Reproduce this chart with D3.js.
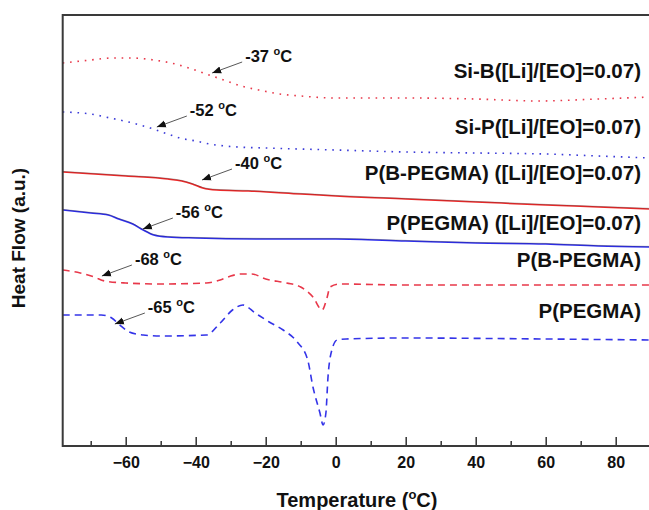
<!DOCTYPE html>
<html>
<head>
<meta charset="utf-8">
<script src="https://cdn.jsdelivr.net/npm/d3@7"></script>
<style>
  body { margin: 0; background: #fff; }
  text { font-family: "Liberation Sans", Arial, sans-serif; font-weight: bold; fill: #111; }
</style>
</head>
<body>
<svg width="649" height="510"></svg>
<script>
// DSC traces, [temperature (C), heat flow (a.u.)]
var siB = [[-78,383],[-70,386],[-64,388],[-58,388],[-52,386],[-47,383],[-42,378],[-37,372],[-32,366],[-27,360],[-22,356],[-16,352],[-10,350],[0,348],[20,348],[40,347],[58,345],[75,347],[90,349]]
var siP = [[-78,334],[-70,332],[-64.5,328],[-58,323],[-53,318],[-48,312],[-44.5,308],[-40,305],[-36,302],[-28,299],[-20,298],[0,296],[20,294],[40,293],[60,292],[75,290],[90,288]]
var pbLi = [[-78,274],[-60,270],[-48,267],[-44,265],[-41,262],[-38,258],[-34,256],[-25,255],[-10,252],[0,250],[20,247],[40,244],[60,241],[75,239],[90,237]]
var ppLi = [[-78,236],[-70,233],[-65,231],[-62,227],[-58,222],[-55,216],[-52,211],[-48,209],[-40,208],[-20,207],[0,207],[20,205],[40,203],[60,202],[75,200],[90,199]]
var pb = [[-78,176],[-73,173],[-69,169],[-66,165],[-60,163],[-50,162],[-37,163],[-33,166],[-30,170],[-27,172],[-24,172],[-20,167],[-14,163],[-10,159],[-6.5,149],[-3.9,136],[-2.5,148],[-1.6,159],[1,162],[20,161],[90,161]]
var pp = [[-78,131],[-67,131],[-64,128],[-62,122],[-59,114],[-55,111],[-50,110],[-37,111],[-33,123],[-29.5,136],[-26.5,141],[-23,133],[-19,124],[-15,116],[-11,104],[-8,86],[-6.5,59],[-4.5,33],[-3.6,21],[-2.8,33],[-2.2,69],[-1.1,96],[0.4,106],[3,107],[20,108],[60,107],[90,106]]

var seriesNames = ["Si-B([Li]/[EO]=0.07)", "Si-P([Li]/[EO]=0.07)", "P(B-PEGMA) ([Li]/[EO]=0.07)", "P(PEGMA) ([Li]/[EO]=0.07)", "P(B-PEGMA)", "P(PEGMA)"]
var seriesData = [siB, siP, pbLi, ppLi, pb, pp]
var seriesColors = ["#e8384a", "#3a3ad8", "#f22a2a", "#2e2ef0", "#e8384a", "#3434e8"]
var seriesDash = ["1.6,5.8", "1.6,5.8", null, null, "7,5", "7,5"]

// glass transitions: label, temperature and heat flow of the arrow tip
var tgLabels = ["-37", "-52", "-40", "-56", "-68", "-65"]
var tgTemp = [-35.3, -51.1, -38.2, -55.1, -66.8, -63.1]
var tgFlow = [373, 319, 266, 217, 170, 122]

var xMajor = [-60, -40, -20, 0, 20, 40, 60, 80]
var xMinor = [-70, -50, -30, -10, 10, 30, 50, 70, 90]

var svg = d3.select("svg")
var xScale = d3.scaleLinear().domain([-78, 90]).range([62.7, 650.7])
var yScale = d3.scaleLinear().domain([0, 432]).range([446, 14])

svg.append("defs").append("clipPath").attr("id", "clip")
    .append("rect").attr("x", 63).attr("y", 15).attr("width", 600).attr("height", 430)
var arrow = svg.select("defs").append("marker")
    .attr("id", "head").attr("viewBox", "0 0 10 10")
    .attr("refX", 10).attr("refY", 5)
    .attr("markerWidth", 9).attr("markerHeight", 9)
    .attr("markerUnits", "userSpaceOnUse")
    .attr("orient", "auto")
arrow.append("path").attr("d", "M0,1 L10,5 L0,9 Z").attr("fill", "#111")

var line = d3.line()
    .x(d => xScale(d[0]))
    .y(d => yScale(d[1]))
    .curve(d3.curveMonotoneX)

var curves = svg.append("g").attr("clip-path", "url(#clip)")
seriesData.forEach((s, i) => {
    curves.append("path")
        .attr("d", line(s))
        .attr("fill", "none")
        .attr("stroke", seriesColors[i])
        .attr("stroke-width", seriesDash[i] ? 1.6 : 1.5)
        .attr("stroke-dasharray", seriesDash[i])
    if (!seriesDash[i]) {
        // the solid traces show a thin dark edge on top
        curves.append("path")
            .attr("d", line(s))
            .attr("fill", "none")
            .attr("stroke", "#222")
            .attr("stroke-opacity", 0.45)
            .attr("stroke-width", 0.7)
            .attr("transform", "translate(0,-0.6)")
    }
})

// series labels, right aligned
var labelY = [78, 134, 180, 230, 267, 318]
svg.append("g").selectAll("text")
    .data(seriesNames)
    .enter()
    .append("text")
    .attr("x", 641)
    .attr("y", (d, i) => labelY[i])
    .attr("text-anchor", "end")
    .style("font-size", "20.5px")
    .text(d => d)

// Tg arrows and labels
tgLabels.forEach((t, i) => {
    var px = xScale(tgTemp[i]), py = yScale(tgFlow[i])
    svg.append("line")
        .attr("x1", px + 30).attr("y1", py - 11)
        .attr("x2", px).attr("y2", py)
        .attr("stroke", "#444").attr("stroke-width", 0.9)
        .attr("marker-end", "url(#head)")
    var txt = svg.append("text")
        .attr("x", px + 33).attr("y", py - 11)
        .style("font-size", "16.5px")
    txt.append("tspan").text(t + " ")
    txt.append("tspan").attr("dy", -7).style("font-size", "11px").text("o")
    txt.append("tspan").attr("dy", 7).text("C")
})

// x axis with inward ticks
var xAxis = d3.axisBottom(xScale).tickValues(xMajor).tickSizeInner(-9).tickSizeOuter(0).tickPadding(10.6)
svg.append("g").attr("id", "xAxis")
    .attr("transform", "translate(0,446)")
    .call(xAxis)
    .call(g => g.select(".domain").remove())
    .call(g => g.selectAll("line").attr("stroke", "#333").attr("stroke-width", 1.5))
    .call(g => g.selectAll("text").style("font-size", "16px").attr("fill", "#111"))
var minorAxis = d3.axisBottom(xScale).tickValues(xMinor).tickSizeInner(-5).tickSizeOuter(0).tickFormat("")
svg.append("g")
    .attr("transform", "translate(0,446)")
    .call(minorAxis)
    .call(g => g.select(".domain").remove())
    .call(g => g.selectAll("line").attr("stroke", "#333").attr("stroke-width", 1.5))

// frame
svg.append("path")
    .attr("d", "M650,15 H62.7 V446 H650")
    .attr("fill", "none")
    .attr("stroke", "#3a3a3a")
    .attr("stroke-width", 2)

var xLabel = svg.append("text")
    .attr("x", 357).attr("y", 507)
    .attr("text-anchor", "middle")
    .style("font-size", "20px")
xLabel.append("tspan").text("Temperature (")
xLabel.append("tspan").attr("dy", -8).style("font-size", "13px").text("o")
xLabel.append("tspan").attr("dy", 8).text("C)")

svg.append("text")
    .attr("transform", "translate(25,238) rotate(-90)")
    .attr("text-anchor", "middle")
    .style("font-size", "19px")
    .text("Heat Flow (a.u.)")
</script>
</body>
</html>
